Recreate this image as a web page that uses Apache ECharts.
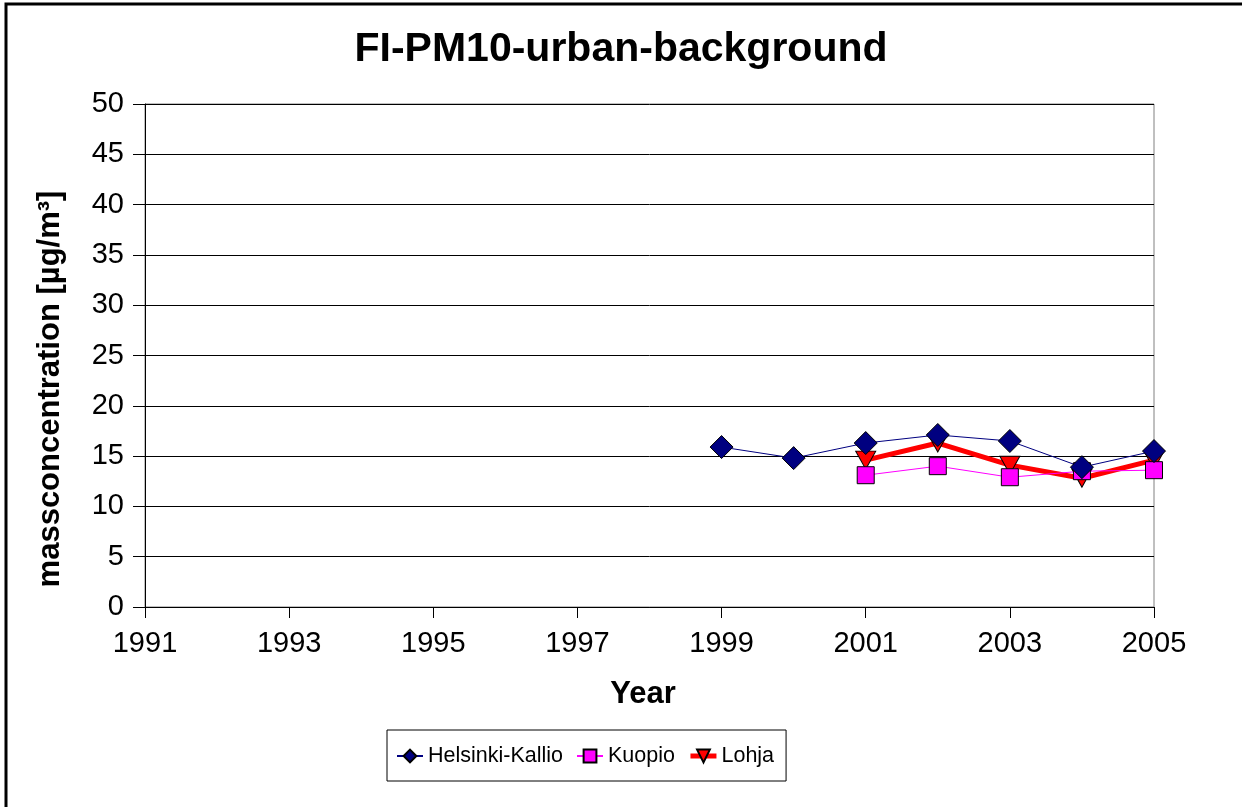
<!DOCTYPE html>
<html>
<head>
<meta charset="utf-8">
<script src="https://cdn.jsdelivr.net/npm/echarts@6/dist/echarts.min.js"></script>
<style>
  html, body { margin: 0; padding: 0; background: #fff; }
  #chart { width: 1242px; height: 807px; }
</style>
</head>
<body>
<div id="chart"></div>
<script>
// Annual mean PM10 mass concentration at Finnish urban background sites
const years = ['1991', '1992', '1993', '1994', '1995', '1996', '1997', '1998',
               '1999', '2000', '2001', '2002', '2003', '2004', '2005'];
const helsinkiKallio = [null, null, null, null, null, null, null, null,
                        15.9, 14.8, 16.3, 17.1, 16.5, 13.9, 15.5];
const kuopio = [null, null, null, null, null, null, null, null,
                null, null, 13.1, 14.0, 12.9, 13.5, 13.6];
const lohja = [null, null, null, null, null, null, null, null,
               null, null, 14.6, 16.3, 14.1, 12.8, 14.6];

const chartTitle = 'FI-PM10-urban-background';
const xTitle = 'Year';
const yTitle = 'massconcentration [µg/m³]';

const FONT = '"Liberation Sans", Arial, sans-serif';

const chart = echarts.init(document.getElementById('chart'), null, { renderer: 'canvas' });

chart.setOption({
  backgroundColor: '#ffffff',
  animation: false,
  title: {
    text: chartTitle,
    left: 'center',
    top: 24,
    textStyle: { fontFamily: FONT, fontSize: 41, fontWeight: 'bold', color: '#000' }
  },
  grid: {
    left: 145, right: 88, top: 104, bottom: 200,
    show: true, borderColor: '#808080', borderWidth: 1, backgroundColor: '#ffffff'
  },
  legend: {
    left: 387, top: 730,
    padding: [15, 12, 14, 9],
    borderColor: '#000', borderWidth: 1,
    itemWidth: 26, itemHeight: 16, itemGap: 13,
    textStyle: { fontFamily: FONT, fontSize: 21.5, color: '#000' },
    data: [
      { name: 'Helsinki-Kallio' },
      { name: 'Kuopio' },
      { name: 'Lohja', lineStyle: { width: 5 } }
    ]
  },
  xAxis: {
    type: 'category',
    data: years,
    boundaryGap: false,
    axisLine: { lineStyle: { color: '#000', width: 1 } },
    axisTick: { show: true, inside: false, length: 11, interval: 1, lineStyle: { color: '#000' } },
    axisLabel: { interval: 1, margin: 22, fontFamily: FONT, fontSize: 29, color: '#000' },
    splitLine: { show: false }
  },
  yAxis: {
    type: 'value',
    min: 0, max: 50, interval: 5,
    axisLine: { show: true, lineStyle: { color: '#000', width: 1 } },
    axisTick: { show: true, inside: false, length: 12, lineStyle: { color: '#000' } },
    axisLabel: { margin: 21, fontFamily: FONT, fontSize: 29, color: '#000' },
    splitLine: { show: true, lineStyle: { color: '#000', width: 1 } }
  },
  graphic: [
    {
      type: 'rect', silent: true, z: 100,
      shape: { x: 6, y: 4, width: 1400, height: 1000 },
      style: { fill: 'none', stroke: '#000', lineWidth: 3 }
    },
    {
      type: 'text', silent: true,
      x: 50, y: 389, rotation: Math.PI / 2,
      style: {
        text: yTitle, fontFamily: FONT, fontSize: 31, fontWeight: 'bold',
        fill: '#000', align: 'center', verticalAlign: 'middle'
      }
    },
    {
      type: 'text', silent: true,
      x: 643, y: 694,
      style: {
        text: xTitle, fontFamily: FONT, fontSize: 31, fontWeight: 'bold',
        fill: '#000', align: 'center', verticalAlign: 'middle'
      }
    }
  ],
  series: [
    {
      name: 'Helsinki-Kallio',
      type: 'line',
      data: helsinkiKallio,
      connectNulls: true,
      z: 5,
      symbol: 'diamond', symbolSize: 23,
      lineStyle: { color: '#000080', width: 1 },
      itemStyle: { color: '#000080', borderColor: '#000', borderWidth: 1 }
    },
    {
      name: 'Kuopio',
      type: 'line',
      data: kuopio,
      connectNulls: true,
      z: 4,
      symbol: 'rect', symbolSize: 17,
      lineStyle: { color: '#FF00FF', width: 1 },
      itemStyle: { color: '#FF00FF', borderColor: '#000', borderWidth: 1 }
    },
    {
      name: 'Lohja',
      type: 'line',
      data: lohja,
      connectNulls: true,
      z: 3,
      symbol: 'triangle', symbolSize: [20, 18], symbolRotate: 180,
      lineStyle: { color: '#FF0000', width: 5 },
      itemStyle: { color: '#FF0000', borderColor: '#000', borderWidth: 1 }
    }
  ]
});
</script>
</body>
</html>
